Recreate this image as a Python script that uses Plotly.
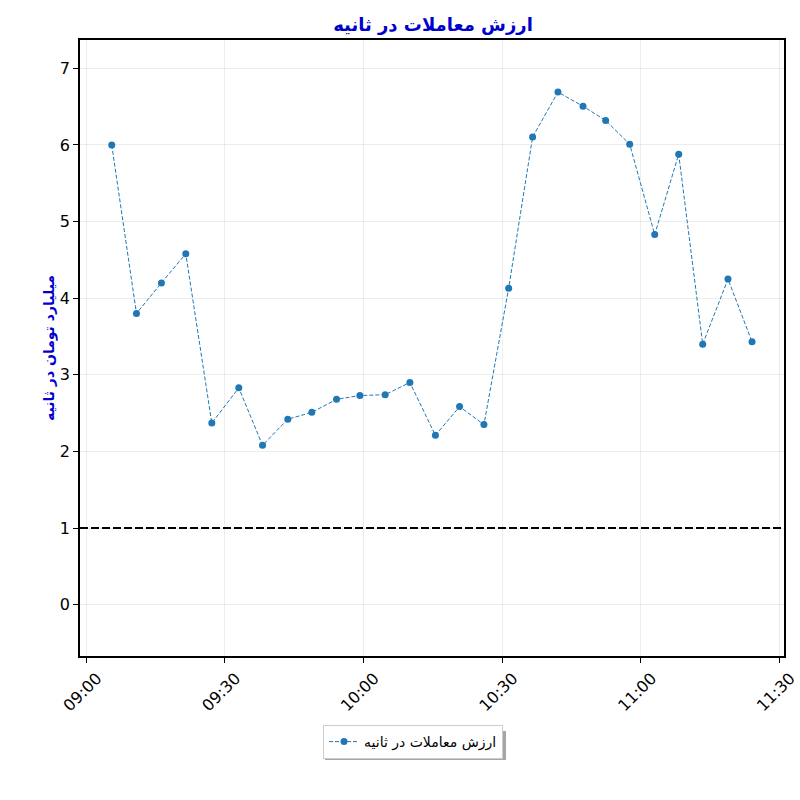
import plotly.graph_objects as go

times = [
    "09:05:34", "09:10:55", "09:16:19", "09:21:35", "09:27:13", "09:33:03",
    "09:38:11", "09:43:39", "09:48:51", "09:54:12", "09:59:15", "10:04:43",
    "10:10:04", "10:15:35", "10:20:49", "10:26:05", "10:31:26", "10:36:37",
    "10:42:06", "10:47:31", "10:52:25", "10:57:37", "11:03:02", "11:08:13",
    "11:13:25", "11:18:53", "11:24:05",
]
values = [
    6.00, 3.80, 4.20, 4.58, 2.37, 2.83, 2.08, 2.42, 2.51, 2.68, 2.73, 2.74,
    2.90, 2.21, 2.585, 2.35, 4.13, 6.105, 6.69, 6.505, 6.32, 6.01, 4.83, 5.88,
    3.40, 4.25, 3.43,
]
threshold = 1
date = "2024-01-01 "
x_range = [date + "08:58:42", date + "11:31:00"]
y_range = [-0.67, 7.37]
tick_vals = [date + t for t in ["09:00", "09:30", "10:00", "10:30", "11:00", "11:30"]]
tick_text = ["09:00", "09:30", "10:00", "10:30", "11:00", "11:30"]

title_text = "ارزش معاملات در ثانیه"
ylabel_text = "میلیارد تومان در ثانیه"
series_name = "ارزش معاملات در ثانیه"

x = [date + t for t in times]

fig = go.Figure()
fig.add_trace(go.Scatter(
    x=x, y=values, mode="lines+markers", name=series_name,
    line=dict(color="#1f77b4", width=1, dash="4px,2px"),
    marker=dict(color="#1f77b4", size=7),
))

fig.add_shape(type="line", xref="paper", x0=0, x1=1, yref="y", y0=threshold, y1=threshold,
              line=dict(color="black", width=2, dash="8px,3px"), layer="above")

# legend shadow (pixel positions converted to paper fractions)
fig.add_shape(type="rect", xref="paper", yref="paper",
              x0=(325 - 80) / 704, x1=(506 - 80) / 704,
              y0=(656 - 760) / 616, y1=(656 - 731) / 616,
              line=dict(width=0), fillcolor="rgba(0,0,0,0.35)", layer="below")

axis_common = dict(
    showline=True, linecolor="black", linewidth=1.5, mirror=True,
    ticks="outside", ticklen=5, tickwidth=1, tickcolor="black",
    showgrid=True, gridcolor="rgba(0,0,0,0.07)", gridwidth=1,
    zeroline=False,
    tickfont=dict(family="DejaVu Sans", size=16, color="black"),
)

fig.update_layout(
    width=800, height=800,
    margin=dict(l=80, r=16, t=40, b=144, autoexpand=False),
    paper_bgcolor="white", plot_bgcolor="white",
    title=dict(text=title_text, x=(433) / 800, xanchor="center", y=1 - 25 / 800, yanchor="middle",
               font=dict(family="DejaVu Sans", size=18, color="#0000cd", weight="bold")),
    xaxis=dict(range=x_range, tickvals=tick_vals, ticktext=tick_text, tickangle=-45,
               ticklabelshift=11, ticklabeloverflow="allow", automargin=False, **axis_common),
    yaxis=dict(range=y_range, dtick=1, tick0=0, automargin=False,
               title=dict(text=ylabel_text, standoff=2,
                          font=dict(family="DejaVu Sans", size=14, color="#0000cd", weight="bold")),
               **axis_common),
    showlegend=True,
    legend=dict(x=413 / 800, xref="container", xanchor="center",
                y=1 - 742 / 800, yref="container", yanchor="middle",
                bgcolor="white", bordercolor="#cccccc", borderwidth=1,
                font=dict(family="DejaVu Sans", size=14, color="black")),
)

fig.write_html("out.html", config={"displayModeBar": False},
               post_script="document.body.style.margin='0';")
